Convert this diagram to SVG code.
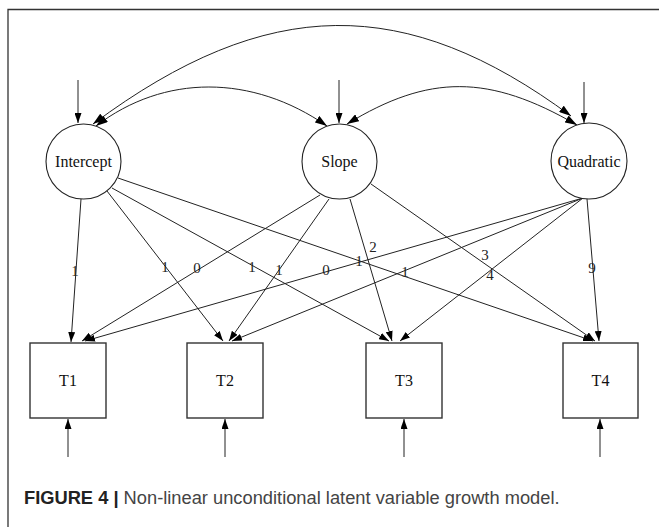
<svg xmlns="http://www.w3.org/2000/svg" width="659" height="527" viewBox="0 0 659 527">
<style>
.node ellipse,.node rect{fill:#fff;stroke:#222;stroke-width:1.1}
.node rect{stroke:#333;stroke-width:1.4}
.lbl{font-family:"Liberation Serif","Times New Roman",serif;font-size:16px;fill:#111;text-anchor:middle;dominant-baseline:central}
.el{font-family:"Liberation Serif","Times New Roman",serif;font-size:15px;fill:#222;text-anchor:middle;dominant-baseline:central}
.e{fill:none;stroke:#222;stroke-width:1;marker-end:url(#ah)}
.b{fill:none;stroke:#222;stroke-width:1;marker-end:url(#ahb);marker-start:url(#ahb)}
.cap{font-family:"Liberation Sans",Arial,sans-serif;font-size:18.3px}
</style>
<defs>
<marker id="ah" viewBox="0 0 10 7" refX="10" refY="3.5" markerWidth="10" markerHeight="7" markerUnits="userSpaceOnUse" orient="auto"><path d="M0,0 L10,3.5 L0,7 z" fill="#000"/></marker>
<marker id="ahb" viewBox="0 0 12 8" refX="12" refY="4" markerWidth="12" markerHeight="8" markerUnits="userSpaceOnUse" orient="auto-start-reverse"><path d="M0,0 L12,4 L0,8 z" fill="#000"/></marker>
</defs>
<rect width="659" height="527" fill="#fff"/>
<path d="M8,527 V9.5 H659" fill="none" stroke="#333" stroke-width="1.3"/>

<g id="connectors">
<path class="b" d="M93,124 C268,-6 406,-6 571,116"/>
<path class="b" d="M96,126 C164,74 252,74 327,126"/>
<path class="b" d="M347,124 C429,74 489,74 577,125"/>
<path class="e" d="M78,80 V123"/>
<path class="e" d="M339,80 V123"/>
<path class="e" d="M584,82 V123"/>
<path class="e" d="M81,199 L71,342"/>
<path class="e" d="M107,191 L223,341"/>
<path class="e" d="M112,188 L389,341"/>
<path class="e" d="M118,178 L593,341"/>
<path class="e" d="M320,195 L82,341"/>
<path class="e" d="M329,199 L229,341"/>
<path class="e" d="M350,199 L392,341"/>
<path class="e" d="M371,184 L595,341"/>
<path class="e" d="M583,198 L85,341"/>
<path class="e" d="M583,198 L232,341"/>
<path class="e" d="M583,198 L400,341"/>
<path class="e" d="M587,199 L599,341"/>
<path class="e" d="M68,457 V419"/>
<path class="e" d="M225,457 V419"/>
<path class="e" d="M404,457 V419"/>
<path class="e" d="M600,457 V419"/>
<text class="el" x="75" y="271">1</text>
<text class="el" x="165" y="267">1</text>
<text class="el" x="252" y="267">1</text>
<text class="el" x="359" y="261">1</text>
<text class="el" x="197" y="268">0</text>
<text class="el" x="279" y="270">1</text>
<text class="el" x="373" y="247">2</text>
<text class="el" x="485" y="255">3</text>
<text class="el" x="490" y="275">4</text>
<text class="el" x="326" y="270">0</text>
<text class="el" x="405" y="272">1</text>
<text class="el" x="592" y="268">9</text>
</g>

<g id="intercept" class="node"><ellipse cx="83.5" cy="161.5" rx="37.5" ry="37.5"/><text class="lbl" x="83.5" y="161.5">Intercept</text></g>
<g id="slope" class="node"><ellipse cx="339.5" cy="161.5" rx="37.5" ry="37.5"/><text class="lbl" x="339.5" y="161.5">Slope</text></g>
<g id="quadratic" class="node"><ellipse cx="589" cy="161" rx="38" ry="38"/><text class="lbl" x="589" y="161">Quadratic</text></g>
<g id="t1" class="node"><rect x="30" y="343" width="76" height="75"/><text class="lbl" x="68" y="380">T1</text></g>
<g id="t2" class="node"><rect x="187" y="343" width="76" height="75"/><text class="lbl" x="225" y="380">T2</text></g>
<g id="t3" class="node"><rect x="366" y="343" width="76" height="75"/><text class="lbl" x="404" y="380">T3</text></g>
<g id="t4" class="node"><rect x="563" y="343" width="75" height="75"/><text class="lbl" x="600.5" y="380">T4</text></g>

<text class="cap" x="24" y="504"><tspan font-weight="bold" fill="#222">FIGURE 4 | </tspan><tspan fill="#444">Non-linear unconditional latent variable growth model.</tspan></text>
</svg>
